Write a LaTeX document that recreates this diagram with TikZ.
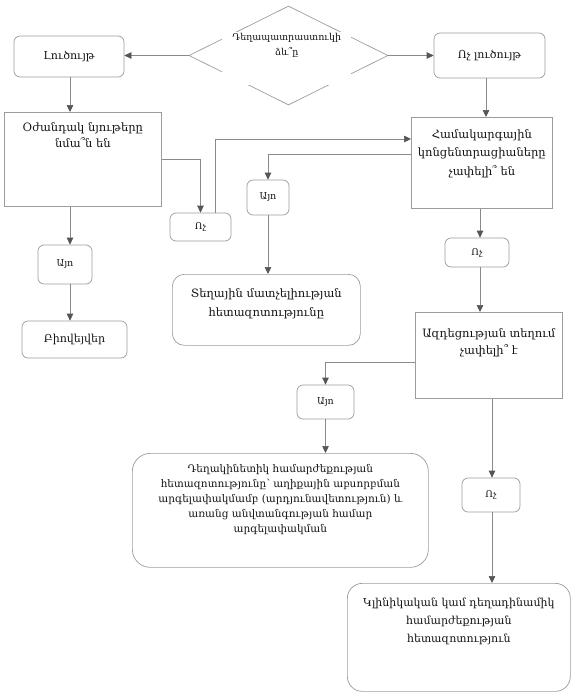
\documentclass[tikz,border=0pt]{standalone}
\usepackage{fontspec}
\setmainfont{DejaVu Serif}
\usetikzlibrary{shapes.geometric,arrows.meta}
\definecolor{lineg}{HTML}{8A8A8A}
\definecolor{tipg}{HTML}{555555}
\definecolor{boxg}{HTML}{9C9C9C}
\definecolor{txt}{HTML}{141414}
% width, height, first baseline offset, baselineskip, font size, text
\newcommand\bxt[6]{\parbox[c][#2][t]{#1}{\fontsize{#5}{#4}\selectfont\centering\vspace*{\dimexpr#3-0.7\baselineskip\relax}\strut #6\par}}
\tikzset{
  rbox/.style={draw=boxg, line width=0.7pt, rounded corners=6pt, inner sep=0pt, text=txt, font=\fontsize{11}{13}\selectfont},
  sbox/.style={draw=boxg, line width=0.7pt, inner sep=0pt, text=txt},
  small/.style={font=\fontsize{9.5}{11}\selectfont},
  arr/.style={draw=lineg, line width=0.7pt, -{Triangle[length=7pt,width=6.5pt,color=tipg,fill=tipg]}},
}
\begin{document}
\begin{tikzpicture}[x=1pt,y=-1pt]
\useasboundingbox[fill=white] (0,0) rectangle (574,699);

% diamond
\node[diamond, draw=boxg, line width=0.7pt, minimum width=199pt, minimum height=99pt, inner sep=0pt] (dia) at (288.5,55.5) {};
\node[fill=white, inner sep=0pt, anchor=north west, text=txt] (diat) at (222,32)
  {\bxt{129pt}{53pt}{8.5pt}{15pt}{9.5}{Դեղապատրաստուկի\\ձև՞ը}};

% boxes
\node[rbox, minimum width=110pt, minimum height=41pt] (sol) at (69,56.5) {Լուծույթ};
\node[rbox, minimum width=111pt, minimum height=45pt] (nsol) at (489.5,55.5) {Ոչ լուծույթ};
\node[sbox, anchor=north west] (exc) at (4,112)
  {\bxt{157pt}{94pt}{19pt}{16pt}{11.5}{Օժանդակ նյութերը\\նմա՞ն են}};
\node[rbox, small, minimum width=61pt, minimum height=28pt] (no1) at (200.5,227) {Ոչ};
\node[sbox, anchor=north west] (sys) at (411,117)
  {\bxt{141pt}{91pt}{21pt}{18.5pt}{11.5}{Համակարգային\\կոնցենտրացիաները\\չափելի՞ են}};
\node[rbox, small, minimum width=42pt, minimum height=35pt] (yes2) at (268,197.5) {Այո};
\node[rbox, rounded corners=12pt, anchor=north west] (loc) at (172,274)
  {\bxt{188pt}{71pt}{23pt}{19pt}{11.5}{Տեղային մատչելիության\\հետազոտությունը}};
\node[rbox, small, minimum width=54pt, minimum height=39pt] (yes1) at (65,264.5) {\raisebox{3pt}{Այո}};
\node[rbox, minimum width=105pt, minimum height=37pt] (bio) at (74.5,339.5) {Բիովեյվեր};
\node[rbox, small, minimum width=64pt, minimum height=29pt] (no2) at (477,252.5) {Ոչ};
\node[sbox, anchor=north west] (site) at (415,312)
  {\bxt{147pt}{86pt}{25pt}{17pt}{11.5}{Ազդեցության տեղում\\չափելի՞ է}};
\node[rbox, small, minimum width=57pt, minimum height=34pt] (yes3) at (325.5,402) {Այո};
\node[rbox, rounded corners=18pt, anchor=north west] (pk) at (132,453)
  {\bxt{296pt}{114pt}{19pt}{15pt}{10.5}{Դեղակինետիկ համարժեքության\\հետազոտությունը՝ աղիքային աբսորբման\\արգելափակմամբ (արդյունավետություն) և\\առանց անվտանգության համար\\արգելափակման}};
\node[rbox, small, minimum width=58pt, minimum height=34pt] (no3) at (491,495) {Ոչ};
\node[rbox, rounded corners=15pt, anchor=north west] (clin) at (347,583)
  {\bxt{223pt}{108pt}{23pt}{18pt}{11}{Կլինիկական կամ դեղադինամիկ\\համարժեքության\\հետազոտություն}};

% helper coordinates
\coordinate (cx1) at (70,0);
\coordinate (cx2) at (486,0);
\coordinate (cx3) at (480,0);
\coordinate (cx4) at (492,0);
\coordinate (j1) at (215,139);
\coordinate (j2) at (0,154);
\coordinate (j3) at (0,362);

% connectors
\draw[arr] (dia.west) -- (sol.east |- dia.west);
\draw[arr] (dia.east) -- (nsol.west |- dia.east);
\draw[arr] (sol.south -| cx1) -- (exc.north -| cx1);
\draw[arr] (exc.east) -| (no1.north);
\draw[arr] (no1.north -| j1) |- (sys.west |- j1);
\draw[arr] (nsol.south -| cx2) -- (sys.north -| cx2);
\draw[arr] (sys.west |- j2) -| (yes2.north);
\draw[arr] (yes2.south) -- (yes2.south |- loc.north);
\draw[arr] (exc.south -| cx1) -- (yes1.north -| cx1);
\draw[arr] (yes1.south -| cx1) -- (bio.north -| cx1);
\draw[arr] (sys.south -| cx3) -- (no2.north -| cx3);
\draw[arr] (no2.south -| cx3) -- (site.north -| cx3);
\draw[arr] (site.west |- j3) -| (yes3.north);
\draw[arr] (yes3.south) -- (yes3.south |- pk.north);
\draw[arr] (site.south -| cx4) -- (no3.north -| cx4);
\draw[arr] (no3.south -| cx4) -- (clin.north -| cx4);
\end{tikzpicture}
\end{document}
